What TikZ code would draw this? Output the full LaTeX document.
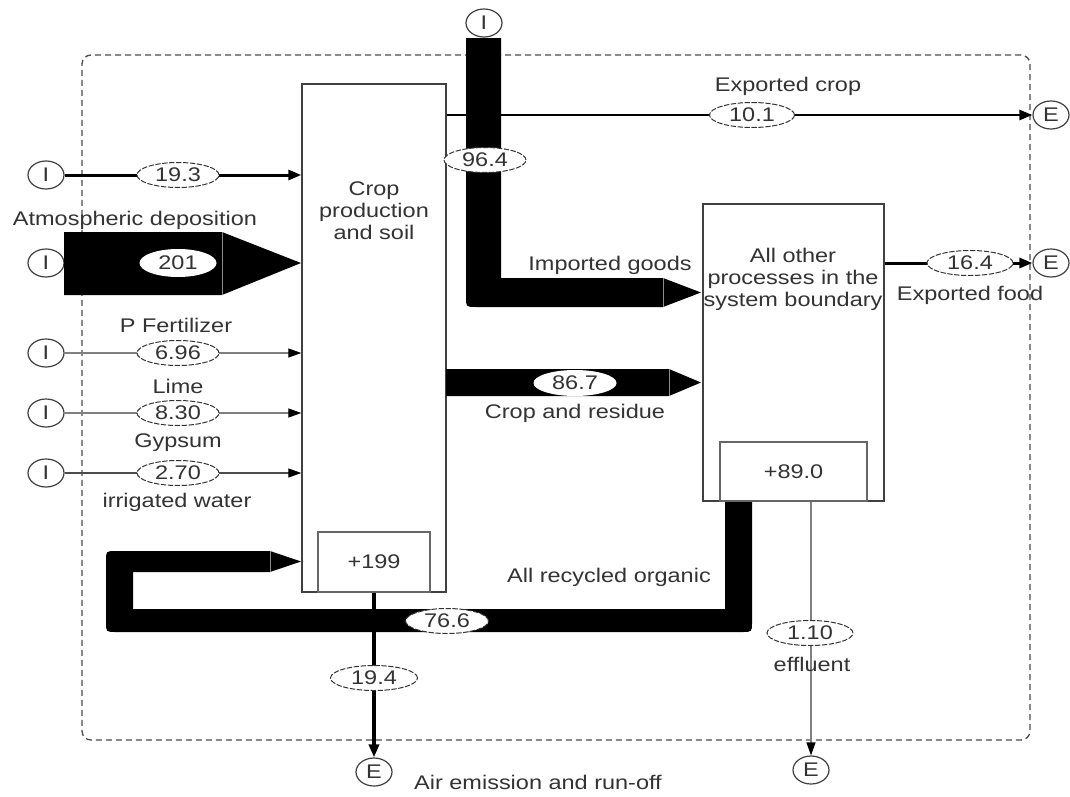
\documentclass[tikz,border=0pt]{standalone}
\usepackage{fontspec}
\setmainfont{Liberation Sans}[FakeStretch=1.19]
\usetikzlibrary{arrows.meta,shapes.geometric}
\newcommand\lblfont{\fontsize{14.8pt}{16.5pt}\selectfont}
\begin{document}
\begin{tikzpicture}[x=0.75pt,y=-0.75pt,
  term/.style={ellipse, draw=black!75, line width=0.9pt, fill=white, minimum width=27pt, minimum height=21pt, inner sep=0pt, font=\lblfont, text=black!80},
  val/.style={ellipse, draw=black!80, dash pattern=on 4pt off 1.2pt, fill=white, line width=0.75pt, minimum width=61.5pt, minimum height=18.75pt, inner sep=0pt, font=\lblfont, text=black!80},
  box/.style={rectangle, draw=black!75, line width=1.05pt, inner sep=0pt, font=\lblfont, text=black!80},
  txt/.style={text=black!80, align=center, inner sep=0pt, font=\lblfont},
  thickarr/.style={draw=black, line width=2.25pt, -{Triangle[length=9.75pt,width=7.5pt]}},
  thinarr/.style={draw=black!50, line width=0.9pt, -{Triangle[length=9.75pt,width=6.75pt,color=black]}},
  joint/.style={draw=black!45, line width=0.75pt}
]
\useasboundingbox (0,0) rectangle (1070,796);
\fill[white] (0,0) rectangle (1070,796);

% system boundary
\node[draw=black!70, line width=1pt, dash pattern=on 4.5pt off 3pt, rounded corners=6.75pt,
  minimum width=711pt, minimum height=513.75pt, inner sep=0pt] (bd) at (556,397.5) {};

% boxes
\node[box, minimum width=108pt, minimum height=381pt] (crop) at (374,338) {};
\node[box, draw=black!60, minimum width=84pt, minimum height=45pt] (cropin) at (374,562) {+199};
\node[box, minimum width=135.75pt, minimum height=222.75pt] (other) at (793.5,352.5) {};
\node[box, draw=black!60, minimum width=110.25pt, minimum height=44.25pt] (otherin) at (793.5,471.5) {+89.0};
\node[txt] (croptext) at (374,211) {Crop\\production\\and soil};
\node[txt] (othertext) at (793,279) {All other\\processes in the\\system boundary};

% terminals
\node[term] (i1) at (46,175) {I};
\node[term] (i2) at (46,263) {I};
\node[term] (i3) at (46,353) {I};
\node[term] (i4) at (46,413) {I};
\node[term] (i5) at (46,473) {I};
\node[term] (itop) at (484,23) {I};
\node[term] (e1) at (1051,115) {E};
\node[term] (e2) at (1051,263) {E};
\node[term] (e3) at (374,772) {E};
\node[term] (e4) at (811,770) {E};

% line connectors
\draw[thickarr] (i1) -- (i1 -| crop.west);
\draw[thinarr] (i3) -- (i3 -| crop.west);
\draw[thinarr] (i4) -- (i4 -| crop.west);
\draw[thinarr, draw=black!70] (i5) -- (i5 -| crop.west);
\draw[thickarr, line width=2pt] (e1 -| crop.east) -- (e1);
\draw[thickarr] (e2 -| other.east) -- (e2);
\draw[thickarr, line width=3pt] (cropin.south) -- (e3);
\draw[thinarr] (e4 |- other.south) -- (e4);

% thick flows
\fill (64,232) -- (222,232) -- (301,263) -- (222,295) -- (64,295) -- cycle;
\draw[joint] (222,232) -- (222,295);
\fill (466,38) -- (501,38) -- (501,278) -- (663,278) -- (701,292.5) -- (663,307) -- (476,307) .. controls (466,307) .. (466,297) -- cycle;
\draw[joint] (663,278) -- (663,307);
\fill (446,369) -- (669,369) -- (701,382.5) -- (669,396) -- (446,396) -- cycle;
\draw[joint] (669,369) -- (669,396);
\fill (725,502) -- (725,609) -- (133,609) -- (133,572) -- (270,572) -- (301,561.5) -- (270,551) -- (116,551) .. controls (106,551) .. (106,561) -- (106,622) .. controls (106,632) .. (116,632) -- (742,632) .. controls (752,632) .. (752,622) -- (752,502) -- cycle;
\draw[joint] (270,551) -- (270,572);

% value labels
\node[val] (v193) at (178,175) {19.3};
\node[val, draw=none, minimum width=57.75pt, minimum height=21pt] (v201) at (178,263) {201};
\node[val] (v696) at (178,353) {6.96};
\node[val] (v830) at (178,413) {8.30};
\node[val] (v270) at (178,473) {2.70};
\node[val] (v964) at (485,160) {96.4};
\node[val, minimum width=63.75pt] (v101) at (752,115) {10.1};
\node[val, minimum width=64.5pt] (v164) at (970,263) {16.4};
\node[val, draw=none, minimum width=62.25pt, minimum height=19.5pt] (v867) at (575,383) {86.7};
\node[val, minimum width=62.25pt] (v766) at (447,621) {76.6};
\node[val, minimum width=65.25pt] (v194) at (374,678) {19.4};
\node[val, minimum width=64.5pt] (v110) at (810,633) {1.10};

% text labels
\node[txt] (tatm) at (135,220) {Atmospheric deposition};
\node[txt] (tpf) at (176,325) {P Fertilizer};
\node[txt] (tlime) at (178,386) {Lime};
\node[txt] (tgyp) at (178,443) {Gypsum};
\node[txt] (tirr) at (177,502) {irrigated water};
\node[txt] (texc) at (788,86) {Exported crop};
\node[txt] (timp) at (610,265) {Imported goods};
\node[txt] (texf) at (970,295) {Exported food};
\node[txt] (tcr) at (575,413) {Crop and residue};
\node[txt] (trec) at (609,577) {All recycled organic};
\node[txt] (teff) at (812,664) {effluent};
\node[txt] (tair) at (538,782) {Air emission and run-off};
\end{tikzpicture}
\end{document}
